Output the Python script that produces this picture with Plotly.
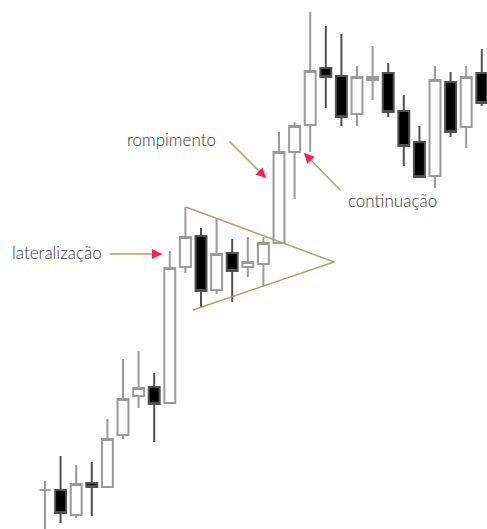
import plotly.graph_objects as go

# candle index (time order)
idx = list(range(29))
# prices (arbitrary units, higher = up)
opens  = [39, 39, 14, 46, 42, 94, 133, 142, 126, 262, 293, 239, 276, 262, 265,
          286, 377, 404, 461, 453, 415, 449, 456, 418, 387, 353, 447, 402, 456]
highs  = [48, 73, 64, 67, 110, 170, 178, 156, 278, 322, 301, 310, 290, 292, 292,
          397, 407, 517, 503, 495, 463, 483, 466, 434, 403, 463, 457, 463, 480]
lows   = [-6, 6, 11, 13, 41, 90, 121, 87, 125, 256, 221, 235, 227, 252, 242,
          285, 330, 377, 421, 403, 403, 429, 412, 363, 351, 341, 392, 381, 423]
closes = [39, 16, 45, 42, 90, 130, 141, 125, 261, 292, 238, 275, 258, 267, 286,
          377, 403, 458, 452, 412, 452, 452, 417, 383, 352, 449, 397, 452, 426]

labels = ["rompimento", "lateralização", "continuação"]

W, H = 487, 529
TAN = "#b59b68"
RED = "#ff1f48"
TXT = "#333333"


def px(x, y):
    return x / W, 1 - y / H


fig = go.Figure(go.Candlestick(
    x=idx, open=opens, high=highs, low=lows, close=closes,
    increasing=dict(line=dict(color="#9a9a9a", width=2), fillcolor="#ffffff"),
    decreasing=dict(line=dict(color="#505050", width=2), fillcolor="#000000"),
    whiskerwidth=0, hoverinfo="skip",
))

annotations = []
# text labels: (label, center x, center y) in pixels
for lab, (cx, cy) in zip(labels, [(171, 139), (57, 252), (392, 200)]):
    x, y = px(cx, cy)
    annotations.append(dict(x=x, y=y, xref="paper", yref="paper", text=lab,
                            showarrow=False, xanchor="center", yanchor="middle",
                            font=dict(family="Lato", size=17, color=TXT, weight=300)))

# arrows: tail -> tip, in pixels
arrows = [((228, 140), (266, 178)), ((108, 254), (162, 254)), ((342, 192), (304, 153))]
for (tx, ty), (hx, hy) in arrows:
    x, y = px(hx, hy)
    annotations.append(dict(x=x, y=y, xref="paper", yref="paper", text="",
                            showarrow=True, arrowhead=0, arrowwidth=1.5,
                            arrowcolor=TAN, ax=tx - hx, ay=ty - hy))
    dx, dy = tx - hx, ty - hy
    n = (dx * dx + dy * dy) ** 0.5
    L = 8
    annotations.append(dict(x=x, y=y, xref="paper", yref="paper", text="",
                            showarrow=True, arrowhead=2, arrowwidth=1, arrowsize=2,
                            arrowcolor=RED, ax=dx / n * L, ay=dy / n * L))

tri = [(186, 207), (334, 262), (193, 310)]
pts = [px(a, b) for a, b in tri]
path = "M {} {} L {} {} L {} {}".format(*pts[0], *pts[1], *pts[2])

fig.update_layout(
    width=W, height=H, margin=dict(l=0, r=0, t=0, b=0),
    paper_bgcolor="white", plot_bgcolor="white", showlegend=False,
    boxgap=0.3, boxgroupgap=0,
    xaxis=dict(visible=False, range=[-45 / 15.6, (W - 45) / 15.6],
               rangeslider=dict(visible=False)),
    yaxis=dict(visible=False, range=[0, H]),
    annotations=annotations,
    shapes=[dict(type="path", path=path, xref="paper", yref="paper",
                 line=dict(color=TAN, width=1.5))],
)

fig.write_html("out.html")
